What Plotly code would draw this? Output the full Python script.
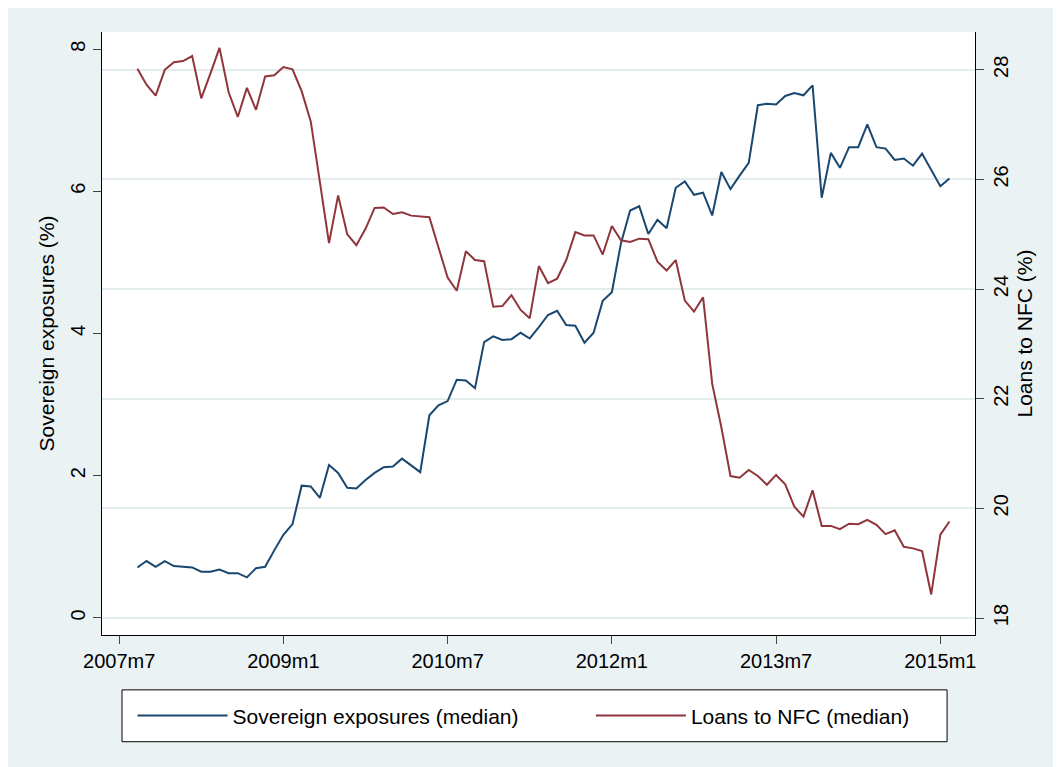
import plotly.graph_objects as go

# months since 2007m7; series runs 2007m9 .. 2015m2
months = list(range(2, 92))

sovereign = [0.71, 0.80, 0.72, 0.80, 0.73, 0.72, 0.71, 0.65, 0.65, 0.68,
             0.63, 0.63, 0.57, 0.70, 0.72, 0.95, 1.17, 1.32, 1.86, 1.85,
             1.69, 2.15, 2.04, 1.83, 1.82, 1.94, 2.04, 2.12, 2.13, 2.24,
             2.15, 2.05, 2.85, 2.99, 3.05, 3.35, 3.34, 3.23, 3.88, 3.96,
             3.91, 3.92, 4.01, 3.93, 4.09, 4.26, 4.32, 4.12, 4.11, 3.87,
             4.01, 4.46, 4.58, 5.27, 5.73, 5.79, 5.40, 5.60, 5.48, 6.05,
             6.14, 5.95, 5.98, 5.66, 6.27, 6.03, 6.22, 6.40, 7.21, 7.23,
             7.22, 7.34, 7.38, 7.35, 7.49, 5.91, 6.54, 6.33, 6.62, 6.62,
             6.94, 6.62, 6.60, 6.44, 6.46, 6.36, 6.53, 6.31, 6.07, 6.18]

loans = [28.02, 27.73, 27.53, 28.00, 28.14, 28.16, 28.25, 27.48, 27.93, 28.40,
         27.59, 27.14, 27.67, 27.27, 27.88, 27.90, 28.05, 28.01, 27.61, 27.06,
         25.95, 24.84, 25.71, 25.00, 24.80, 25.10, 25.48, 25.49, 25.37, 25.40,
         25.34, 25.32, 25.31, 24.76, 24.21, 23.97, 24.69, 24.53, 24.51, 23.68,
         23.69, 23.89, 23.62, 23.47, 24.42, 24.11, 24.19, 24.53, 25.04, 24.98,
         24.98, 24.63, 25.15, 24.89, 24.86, 24.92, 24.91, 24.50, 24.34, 24.53,
         23.79, 23.59, 23.85, 22.27, 21.48, 20.59, 20.56, 20.70, 20.59, 20.43,
         20.61, 20.44, 20.03, 19.85, 20.33, 19.68, 19.68, 19.62, 19.72, 19.71,
         19.79, 19.70, 19.53, 19.60, 19.30, 19.27, 19.22, 18.43, 19.52, 19.76]

tick_pos = [0, 18, 36, 54, 72, 90]
tick_text = ["2007m7", "2009m1", "2010m7", "2012m1", "2013m7", "2015m1"]

font = "Liberation Sans, Arial, sans-serif"

fig = go.Figure()
fig.add_trace(go.Scatter(x=months, y=sovereign, mode="lines",
                         name="Sovereign exposures (median)", legend="legend",
                         line=dict(color="#1a476f", width=2)))
fig.add_trace(go.Scatter(x=months, y=loans, mode="lines", yaxis="y2",
                         name="Loans to NFC (median)", legend="legend2",
                         line=dict(color="#90353b", width=2)))

leg = dict(orientation="h", y=-0.134, xanchor="left", yanchor="middle",
           itemwidth=90, bgcolor="rgba(0,0,0,0)", font=dict(size=21))

fig.update_layout(
    width=1061, height=767,
    margin=dict(l=94, r=94, t=24, b=140),
    paper_bgcolor="#eaf2f3", plot_bgcolor="white",
    font=dict(family=font, size=20, color="black"),
    xaxis=dict(range=[-1.88, 93.8], tickvals=tick_pos, ticktext=tick_text,
               showgrid=False, zeroline=False, showline=True,
               linecolor="black", ticks="outside", ticklen=8),
    yaxis=dict(range=[-0.24, 8.24], tickvals=[0, 2, 4, 6, 8], tickangle=-90,
               title=dict(text="Sovereign exposures (%)", standoff=6,
                          font=dict(size=21)),
               showgrid=False, zeroline=False, showline=True,
               linecolor="black", ticks="outside", ticklen=8),
    yaxis2=dict(range=[17.69, 28.69], tickvals=[18, 20, 22, 24, 26, 28],
                tickangle=-90, overlaying="y", side="right",
                title=dict(text="Loans to NFC (%)", standoff=6,
                           font=dict(size=21)),
                showgrid=True, gridcolor="#e3eced", gridwidth=2,
                zeroline=False, showline=True, linecolor="black",
                ticks="outside", ticklen=8),
    showlegend=True,
    legend=dict(leg, x=0.035),
    legend2=dict(leg, x=0.56),
    shapes=[dict(type="rect", xref="paper", yref="paper",
                 x0=0.0229, x1=0.968, y0=-0.177, y1=-0.091,
                 fillcolor="white", line=dict(color="black", width=1),
                 layer="below")],
)

fig.write_html("out.html")
